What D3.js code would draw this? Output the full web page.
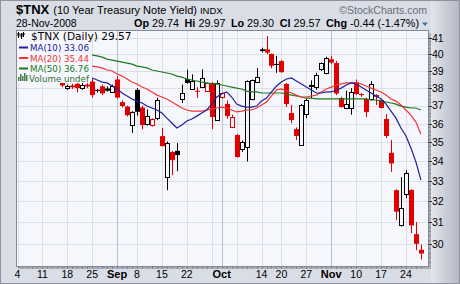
<!DOCTYPE html>
<html>
<head>
<meta charset="UTF-8">
<style>
  body { margin: 0; background: #fff; }
  svg { display: block; font-family: "Liberation Sans", Arial, sans-serif; }
</style>
</head>
<body>
<svg id="chart" width="460" height="284"></svg>
<script src="https://d3js.org/d3.v7.min.js"></script>
<script>
// trading days, Aug 4 .. Nov 28 2008
const dates = [
  "08-04","08-05","08-06","08-07","08-08","08-11","08-12","08-13","08-14","08-15",
  "08-18","08-19","08-20","08-21","08-22","08-25","08-26","08-27","08-28","08-29",
  "09-02","09-03","09-04","09-05","09-08","09-09","09-10","09-11","09-12","09-15",
  "09-16","09-17","09-18","09-19","09-22","09-23","09-24","09-25","09-26","09-29",
  "09-30","10-01","10-02","10-03","10-06","10-07","10-08","10-09","10-10","10-14",
  "10-15","10-16","10-17","10-20","10-21","10-22","10-23","10-24","10-27","10-28",
  "10-29","10-30","10-31","11-03","11-04","11-05","11-06","11-07","11-10","11-11",
  "11-12","11-13","11-14","11-17","11-18","11-19","11-20","11-21","11-24","11-25",
  "11-26","11-28"
];

const open = [
  39.60,39.60,40.40,40.40,39.40,39.60,39.90,39.30,39.30,38.45,
  37.98,38.15,38.25,37.98,38.20,38.38,37.90,38.10,37.98,37.80,
  38.50,37.20,36.95,35.93,37.90,36.90,35.98,35.93,36.30,35.33,
  33.20,34.49,34.55,37.38,38.52,37.95,37.85,38.05,37.83,38.30,
  36.20,37.49,37.10,35.82,35.39,34.66,34.75,37.35,38.35,40.30,
  40.30,40.02,39.42,39.59,38.24,36.59,35.71,34.86,36.53,38.10,
  38.06,39.12,38.90,39.70,39.47,37.43,36.87,36.87,38.35,37.66,
  37.38,37.38,37.60,37.32,36.26,34.45,32.55,30.86,32.36,32.56,
  30.45,29.74
];
const high = [
  39.85,40.60,40.80,40.50,39.90,40.20,40.00,39.60,39.50,38.55,
  38.20,38.25,38.30,38.30,38.40,38.55,37.95,38.20,38.10,38.20,
  38.70,37.30,37.00,36.70,38.00,37.00,36.80,36.30,37.45,35.77,
  35.05,34.55,34.96,38.20,39.08,38.80,38.05,39.10,38.30,38.35,
  38.45,37.75,37.30,36.50,35.45,35.10,38.45,38.50,39.18,40.40,
  41.12,40.05,39.90,39.65,38.30,37.04,35.80,37.10,37.40,38.45,
  38.90,39.50,39.85,39.90,39.60,37.50,37.85,38.00,38.50,37.70,
  37.45,38.40,37.65,37.40,36.53,35.13,32.60,33.20,33.55,32.60,
  31.01,29.97
];
const low = [
  39.30,39.50,40.10,39.20,39.10,39.50,39.10,39.00,38.80,38.05,
  37.90,37.95,37.75,37.90,38.00,37.45,37.75,37.60,37.80,37.75,
  37.40,36.90,36.40,35.50,36.45,35.70,35.90,35.85,36.20,34.78,
  32.55,33.30,33.50,37.15,38.25,37.90,37.43,38.00,37.80,35.71,
  36.15,37.40,36.27,35.80,34.20,34.50,34.00,37.30,38.30,40.10,
  40.00,39.17,38.89,38.90,36.92,36.03,35.12,34.80,36.30,37.40,
  37.90,39.00,38.80,39.40,37.60,36.90,36.80,36.50,37.60,37.50,
  36.36,37.30,37.04,36.85,35.23,33.47,31.10,30.80,32.16,30.50,
  29.72,29.30
];
const close = [
  39.50,40.40,40.60,39.30,39.40,40.00,39.20,39.40,39.00,38.15,
  38.15,38.05,38.00,38.20,38.10,37.60,37.85,37.70,37.85,38.10,
  37.46,36.98,36.47,36.63,36.66,35.93,36.42,36.25,37.30,34.80,
  34.96,34.07,34.33,37.72,38.30,38.41,37.80,38.58,38.30,36.37,
  38.30,37.70,36.42,36.38,34.23,35.04,38.41,38.47,38.64,40.20,
  40.10,39.31,39.36,38.93,37.09,36.20,35.34,37.04,37.32,38.20,
  38.76,39.47,39.77,39.50,37.69,36.92,37.09,37.77,37.66,37.60,
  36.64,38.24,37.50,36.87,35.34,33.90,31.51,31.68,33.40,30.86,
  30.01,29.57
];

// moving averages as drawn (first 15 days sit under the legend)
const ma10 = [
  null,null,null,null,null,null,null,null,null,null,null,null,null,null,null,
  38.59,38.47,38.35,38.30,38.12,37.95,37.72,37.55,37.38,37.26,
  37.15,36.98,36.87,36.76,36.59,36.31,36.04,35.77,35.93,36.15,
  36.26,36.42,36.59,36.76,37.09,37.49,37.66,37.78,37.49,37.09,
  36.98,36.92,36.92,36.98,37.26,37.43,37.78,38.12,38.35,38.53,
  38.59,38.41,38.24,38.06,37.89,37.72,37.72,37.78,37.78,37.89,
  38.00,38.18,38.30,38.24,38.06,37.89,37.72,37.55,37.38,37.09,
  36.70,36.31,35.77,35.34,34.70,33.98,33.06
];
const ma20 = [
  null,null,null,null,null,null,null,null,null,null,null,null,null,null,null,
  39.29,39.24,39.18,39.06,39.00,38.82,38.70,38.53,38.35,38.24,
  38.06,37.95,37.78,37.60,37.49,37.38,37.21,37.04,36.87,36.76,
  36.70,36.70,36.70,36.76,36.81,36.87,36.92,36.87,36.76,36.65,
  36.70,36.76,36.76,36.87,37.04,37.21,37.55,37.89,37.95,37.83,
  37.72,37.60,37.49,37.49,37.55,37.60,37.78,37.95,38.06,38.18,
  38.24,38.30,38.30,38.30,38.24,38.12,38.00,37.89,37.78,37.60,
  37.38,37.26,37.04,36.76,36.48,36.09,35.44
];
const ma50 = [
  null,null,null,null,null,null,null,null,null,null,null,null,null,null,null,
  39.95,39.90,39.83,39.71,39.65,39.59,39.53,39.47,39.41,39.29,
  39.24,39.18,39.06,39.00,38.94,38.88,38.82,38.70,38.64,38.53,
  38.47,38.41,38.35,38.30,38.24,38.24,38.18,38.12,38.06,38.00,
  37.95,37.83,37.78,37.78,37.72,37.72,37.72,37.72,37.72,37.66,
  37.60,37.55,37.49,37.43,37.43,37.38,37.38,37.38,37.38,37.38,
  37.38,37.38,37.38,37.38,37.38,37.38,37.32,37.32,37.26,37.21,
  37.15,37.09,36.98,36.92,36.87,36.87,36.76
];

const weekStarts = ["08-04","08-11","08-18","08-25","09-02","09-08","09-15","09-22","09-29",
                    "10-06","10-14","10-20","10-27","11-03","11-10","11-17","11-24"];
const monthStarts = ["09-02","10-01","11-03"];
const monthNames = ["Sep","Oct","Nov"];
const priceTicks = [30,31,32,33,34,35,36,37,38,39,40,41];

const svg = d3.select("#chart");
const L = 17, R = 428, T = 31, B = 266;
const plotBg = "#f5f7fc";
const red = "#e00000";
const legendFont = "'DejaVu Sans', Verdana, sans-serif";

const x = d3.scaleLinear().domain([0, dates.length - 1]).range([17.5, 420.9]);
const y = d3.scaleLog().domain([30, 41]).range([244, 38]);

const defs = svg.append("defs");
const grad = defs.append("linearGradient").attr("id", "side").attr("x1", 0).attr("x2", 1);
grad.append("stop").attr("offset", 0).attr("stop-color", "#e3e6ed");
grad.append("stop").attr("offset", 1).attr("stop-color", "#b3b8c4");
defs.append("clipPath").attr("id", "plot")
  .append("rect").attr("x", L).attr("y", T).attr("width", R - L).attr("height", B - T);

// background
svg.append("rect").attr("x", 0.5).attr("y", 0.5).attr("width", 459).attr("height", 283)
  .attr("fill", "#d9dde6").attr("stroke", "#8e939d");
svg.append("rect").attr("x", 431).attr("y", 1).attr("width", 28).attr("height", 282)
  .attr("fill", "url(#side)");

// shadow + plot
svg.append("rect").attr("x", L + 2).attr("y", T + 2).attr("width", R - L + 1).attr("height", B - T + 1)
  .attr("fill", "#a9adb7");
svg.append("rect").attr("x", L).attr("y", T).attr("width", R - L).attr("height", B - T)
  .attr("fill", plotBg);

const plot = svg.append("g").attr("clip-path", "url(#plot)");

// grid
plot.selectAll("line.hg").data(priceTicks).join("line")
  .attr("x1", L).attr("x2", R)
  .attr("y1", d => Math.round(y(d)) + 0.5).attr("y2", d => Math.round(y(d)) + 0.5)
  .attr("stroke", "#dcdfe6");
const wIdx = weekStarts.map(d => dates.indexOf(d));
const mIdx = monthStarts.map(d => dates.indexOf(d));
plot.selectAll("line.vg").data(wIdx.filter(i => !mIdx.includes(i))).join("line")
  .attr("x1", i => Math.round(x(i)) + 0.5).attr("x2", i => Math.round(x(i)) + 0.5)
  .attr("y1", T).attr("y2", B).attr("stroke", "#dcdfe6");
plot.selectAll("line.mg").data(mIdx).join("line")
  .attr("x1", i => Math.round(x(i)) + 0.5).attr("x2", i => Math.round(x(i)) + 0.5)
  .attr("y1", T).attr("y2", B).attr("stroke", "#b9bdc7");

// candles
const idx = d3.range(dates.length);
const col = i => (i > 0 && close[i] < close[i - 1]) ? red : "#000";
plot.selectAll("line.wick").data(idx).join("line")
  .attr("x1", i => Math.round(x(i)) + 0.5).attr("x2", i => Math.round(x(i)) + 0.5)
  .attr("y1", i => y(high[i])).attr("y2", i => y(low[i]))
  .attr("stroke", col).attr("stroke-width", 1);
plot.selectAll("rect.fill").data(idx.filter(i => close[i] < open[i])).join("rect")
  .attr("x", i => Math.round(x(i)) - 2).attr("width", 5)
  .attr("y", i => y(open[i])).attr("height", i => Math.max(1, y(close[i]) - y(open[i])))
  .attr("fill", col);
plot.selectAll("rect.hollow").data(idx.filter(i => close[i] >= open[i])).join("rect")
  .attr("x", i => Math.round(x(i)) - 1.5).attr("width", 4)
  .attr("y", i => Math.round(y(close[i])) + 0.5)
  .attr("height", i => Math.max(1, Math.round(y(open[i])) - Math.round(y(close[i]))))
  .attr("fill", plotBg).attr("stroke", col);

// moving averages
const maLine = arr => d3.line().defined(i => arr[i] != null)
  .x(i => x(i)).y(i => y(arr[i])).curve(d3.curveLinear)(idx);
[[ma50, "#1b7a1b"], [ma20, "#f23434"], [ma10, "#20209c"]].forEach(([arr, c]) => {
  plot.append("path").attr("d", maLine(arr)).attr("fill", "none")
    .attr("stroke", c).attr("stroke-width", 1.2);
});

// legend (opaque)
const lg = svg.append("g").attr("font-family", legendFont);
lg.append("rect").attr("x", L).attr("y", T).attr("width", 73).attr("height", 52).attr("fill", plotBg);
// tiny candle icon
[[18, 32, 36], [21, 33, 37], [23, 32, 35]].forEach(([cx, a, b]) => {
  lg.append("line").attr("x1", cx + 0.5).attr("x2", cx + 0.5).attr("y1", a).attr("y2", b + 2)
    .attr("stroke", "#000");
  lg.append("rect").attr("x", cx - 0.5).attr("y", a + 1).attr("width", 2).attr("height", b - a - 1)
    .attr("fill", "#000");
});
lg.append("text").attr("x", 31).attr("y", 39.5).attr("font-size", 10.6).attr("fill", "#000")
  .text("$TNX (Daily) " + close[close.length - 1].toFixed(2));
const legendRows = [
  ["MA(10) " + ma10[ma10.length - 1].toFixed(2), "#20209c", 51],
  ["MA(20) " + ma20[ma20.length - 1].toFixed(2), "#f23434", 61.5],
  ["MA(50) " + ma50[ma50.length - 1].toFixed(2), "#1b7a1b", 72]
];
legendRows.forEach(([t, c, by]) => {
  lg.append("line").attr("x1", 19).attr("x2", 28).attr("y1", by - 3.5).attr("y2", by - 3.5)
    .attr("stroke", c).attr("stroke-width", 2);
  lg.append("text").attr("x", 30).attr("y", by).attr("font-size", 8.7).attr("fill", c).text(t);
});
[[18, 4], [20, 7], [22, 5], [24, 8], [26, 6]].forEach(([bx, h]) => {
  lg.append("rect").attr("x", bx).attr("y", 81 - h).attr("width", 1.5).attr("height", h).attr("fill", "#4c7c4c");
});
lg.append("text").attr("x", 29).attr("y", 82).attr("font-size", 8.7).attr("fill", "#2f6f2f").text("Volume undef");

// frame
svg.append("rect").attr("x", L - 0.5).attr("y", T - 0.5).attr("width", R - L + 1).attr("height", B - T + 1)
  .attr("fill", "none").attr("stroke", "#868b96");

// right axis
const ra = svg.append("g");
ra.selectAll("line.minor").data(d3.range(292, 412, 2).map(v => v / 10)).join("line")
  .attr("x1", R + 0.5).attr("x2", R + 2.5)
  .attr("y1", d => Math.round(y(d)) + 0.5).attr("y2", d => Math.round(y(d)) + 0.5)
  .attr("stroke", "#7a7f8a");
ra.selectAll("line.major").data(priceTicks).join("line")
  .attr("x1", R + 0.5).attr("x2", R + 4)
  .attr("y1", d => Math.round(y(d)) + 0.5).attr("y2", d => Math.round(y(d)) + 0.5)
  .attr("stroke", "#333");
ra.selectAll("text").data(priceTicks).join("text")
  .attr("x", 432).attr("y", d => y(d) + 3.8)
  .attr("font-size", 10.5).attr("fill", "#000").text(d => d);

// bottom axis
const ba = svg.append("g");
ba.selectAll("line").data(idx).join("line")
  .attr("x1", i => Math.round(x(i)) + 0.5).attr("x2", i => Math.round(x(i)) + 0.5)
  .attr("y1", B + 0.5).attr("y2", B + 2.5).attr("stroke", "#7a7f8a");
const dayLabels = wIdx.filter(i => !mIdx.includes(i) && !mIdx.some(m => Math.abs(m - i) < 4))
  .map(i => ({ i, t: String(+dates[i].slice(3)), bold: false }));
const labels = dayLabels.concat(mIdx.map((i, k) => ({ i, t: monthNames[k], bold: true })));
ba.selectAll("text").data(labels).join("text")
  .attr("x", d => x(d.i)).attr("y", 278).attr("text-anchor", "middle")
  .attr("font-size", d => d.bold ? 11 : 10.5).attr("font-weight", d => d.bold ? "bold" : "normal")
  .attr("fill", "#000").text(d => d.t);

// header
const h1 = svg.append("text").attr("x", 16).attr("y", 14);
h1.append("tspan").attr("font-size", 13).attr("font-weight", "bold").text("$TNX");
h1.append("tspan").attr("font-size", 11).attr("dx", 4).text("(10 Year Treasury Note Yield)");
h1.append("tspan").attr("font-size", 9.5).attr("dx", 3).text("INDX");
svg.append("text").attr("x", 427).attr("y", 13.5).attr("text-anchor", "end")
  .attr("font-size", 10.5).attr("fill", "#6a6e78").text("\u00A9StockCharts.com");
svg.append("text").attr("x", 16).attr("y", 26.5).attr("font-size", 10.5).text("28-Nov-2008");

const last = close.length - 1;
const chg = close[last] - close[last - 1];
const quote = [
  ["Op", open[last].toFixed(2)], ["Hi", high[last].toFixed(2)], ["Lo", low[last].toFixed(2)],
  ["Cl", close[last].toFixed(2)],
  ["Chg", chg.toFixed(2) + " (" + (chg / close[last - 1] * 100).toFixed(2) + "%)"]
];
const h2 = svg.append("text").attr("x", 419).attr("y", 26.5).attr("text-anchor", "end").attr("font-size", 10.8);
quote.forEach(([k, v], n) => {
  h2.append("tspan").attr("font-weight", "bold").attr("dx", n ? 5.5 : 0).text(k);
  h2.append("tspan").attr("dx", 3).text(v);
});
svg.append("path").attr("d", "M422,22.5 L428,22.5 L425,26 Z").attr("fill", "#4a6ea8");
</script>
</body>
</html>
